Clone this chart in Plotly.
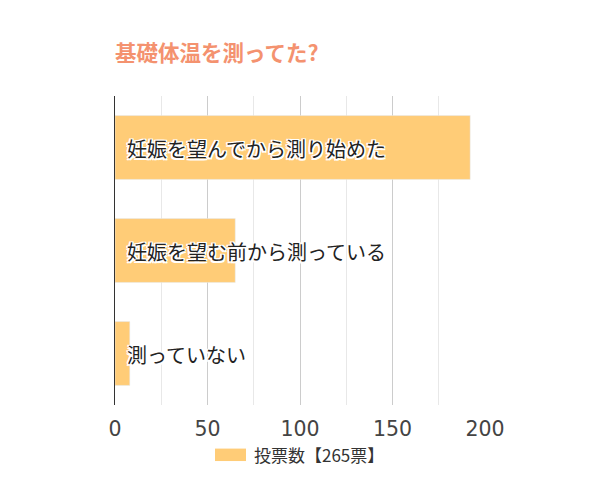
import plotly.graph_objects as go

categories = ["妊娠を望んでから測り始めた", "妊娠を望む前から測っている", "測っていない"]
votes = [192, 65, 8]
series_name = "投票数【265票】"
title_text = "基礎体温を測ってた?"
tick_vals = [0, 50, 100, 150, 200]
bar_color = "#FFCC77"

# page body has an 8px default margin; compensate in layout
OFF = 8
W, H = 600, 500

fig = go.Figure()
fig.add_trace(go.Bar(
    y=categories, x=votes, orientation="h", name=series_name,
    marker=dict(color=bar_color), width=0.62, hoverinfo="skip", showlegend=False,
))

halo = ",".join(f"{dx}px {dy}px 0.5px #fff" for dx in (-1.5, 0, 1.5) for dy in (-1.5, 0, 1.5) if dx or dy)
for c in categories:
    fig.add_annotation(
        x=0, y=c, xref="x", yref="y", text=c, showarrow=False,
        xanchor="left", xshift=10, yshift=-1,
        font=dict(family="Noto Sans CJK JP", size=20, color="#222", shadow=halo),
    )

# legend (swatch + label)
fig.add_shape(type="rect", xref="paper", yref="paper",
              x0=(215 - OFF - 107) / 370, x1=(246 - OFF - 107) / 370,
              y0=(H - 103 - (477 - OFF)) / 397, y1=(H - 103 - (461 - OFF)) / 397,
              fillcolor=bar_color, line=dict(width=0))
fig.add_annotation(xref="paper", yref="paper", x=(252 - OFF - 107) / 370,
                   y=(H - 103 - (469 - OFF)) / 397, text=series_name, showarrow=False,
                   xanchor="left", yanchor="middle",
                   font=dict(family="Noto Sans CJK JP", size=17, color="#333"))

fig.update_layout(
    width=W, height=H,
    margin=dict(l=115 - OFF, r=W - (485 - OFF), t=96 - OFF, b=H - (405 - OFF)),
    paper_bgcolor="white", plot_bgcolor="white",
    title=dict(text="<b>" + title_text + "</b>", x=(115 - OFF) / W, xanchor="left",
               y=1 - (53 - OFF) / H, yanchor="middle",
               font=dict(family="Noto Sans CJK JP", size=21.5, color="#F4926F")),
    showlegend=False,
    xaxis=dict(range=[0, 200], tickvals=tick_vals, showgrid=True, gridcolor="#cccccc",
               gridwidth=1, zeroline=False, ticks="", ticklen=0, ticklabelstandoff=9,
               tickfont=dict(family="DejaVu Sans", size=20.5, color="#444"),
               minor=dict(dtick=25, tick0=0, showgrid=True, gridcolor="#e8e8e8", gridwidth=1),
               fixedrange=True),
    yaxis=dict(autorange="reversed", showticklabels=False, showline=True,
               linecolor="#333", linewidth=1, ticks="", showgrid=False, fixedrange=True),
    bargap=0.38,
)

fig.write_html("out.html")
